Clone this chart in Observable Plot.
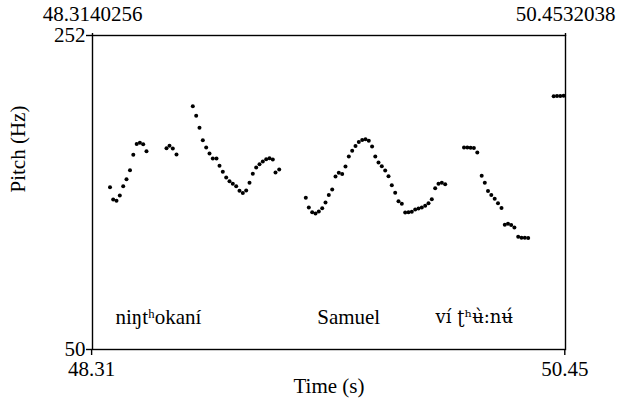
<!DOCTYPE html>
<html>
<head>
<meta charset="utf-8">
<script src="https://cdn.jsdelivr.net/npm/d3@7"></script>
<script src="https://cdn.jsdelivr.net/npm/@observablehq/plot@0.6"></script>
<style>
  html, body { margin: 0; padding: 0; background: #fff; }
</style>
</head>
<body>
<div id="chart"></div>
<script>
const timeStart = 48.3140256;
const timeEnd = 50.4532038;
const pitchMin = 50;
const pitchMax = 252;

const topTicks = [48.3140256, 50.4532038];
const bottomTicks = [48.31, 50.45];
const yTicks = [50, 252];

const times = [
  48.3932, 48.4076, 48.4226, 48.4375, 48.4529, 48.4678, 48.4836, 48.4985, 48.5139, 48.5284, 48.5433, 48.5582,
  48.6487, 48.6623, 48.6772, 48.6939,
  48.7676, 48.7830, 48.7979, 48.8129, 48.8282, 48.8432, 48.8581, 48.8748, 48.8884, 48.9033, 48.9187, 48.9336,
  48.9485, 48.9639, 48.9788, 48.9938, 49.0091, 49.0241, 49.0390, 49.0544, 49.0693, 49.0842, 49.0996, 49.1145,
  49.1294, 49.1417, 49.1584,
  49.2787, 49.2923, 49.3076, 49.3226, 49.3375, 49.3529, 49.3678, 49.3827, 49.3981, 49.4130, 49.4279, 49.4433,
  49.4582, 49.4732, 49.4885, 49.5035, 49.5184, 49.5338, 49.5487, 49.5636, 49.5785, 49.5930, 49.6075, 49.6224,
  49.6378, 49.6527, 49.6676, 49.6830, 49.6979, 49.7129, 49.7282, 49.7432, 49.7581, 49.7735, 49.7884, 49.8033,
  49.8187, 49.8336, 49.8485, 49.8639, 49.8788, 49.8938, 49.9091,
  49.9942, 50.0091, 50.0240, 50.0389, 50.0543, 50.0742, 50.0882, 50.1027, 50.1176, 50.1330, 50.1479, 50.1638,
  50.1787, 50.1932, 50.2076, 50.2221, 50.2393, 50.2542, 50.2691, 50.2845,
  50.3998, 50.4148, 50.4297, 50.4446
];
const pitches = [
  154.4, 146.5, 145.7, 149.1, 155.0, 159.5, 165.3, 175.3, 182.2, 183.0, 182.1, 177.6,
  179.5, 181.0, 179.3, 175.4,
  206.5, 200.3, 192.6, 184.6, 180.0, 176.1, 172.9, 172.9, 168.2, 164.3, 160.7, 158.3,
  156.6, 155.1, 152.1, 150.6, 152.3, 157.2, 163.0, 167.1, 169.2, 170.9, 172.4, 173.1,
  172.2, 163.9, 165.8,
  147.6, 141.4, 138.3, 137.5, 138.8, 140.9, 144.6, 149.4, 152.9, 161.3, 163.7, 162.9,
  167.7, 174.2, 177.9, 180.9, 183.5, 184.8, 185.2, 184.3, 180.6, 174.2, 170.3, 167.9,
  165.2, 161.5, 155.6, 150.8, 145.4, 143.7, 138.1, 138.3, 138.6, 140.1, 140.7, 141.4,
  142.4, 144.1, 146.7, 153.8, 156.6, 157.2, 156.3,
  180.0, 180.0, 179.8, 179.6, 176.7, 161.7, 157.2, 152.0, 149.4, 147.0, 144.1, 141.0,
  130.3, 130.9, 130.1, 128.5, 122.5, 121.9, 121.9, 121.7,
  212.9, 213.0, 213.1, 213.3
];

const words = ["niŋtʰokaní", "Samuel", "ví ʈʰʉ̀:nʉ́"];
const wordTimes = [48.4180, 49.3303, 49.8653];
const wordPitch = 70.6;

const points = times.map((t, i) => ({t, f: pitches[i]}));
const wordData = words.map((w, i) => ({w, t: wordTimes[i], f: wordPitch, i}));

const serif = "'Liberation Serif', 'Times New Roman', serif";
const ipaSerif = "'DejaVu Serif', 'Liberation Serif', serif";

const chart = Plot.plot({
  width: 617,
  height: 408,
  marginLeft: 92,
  marginRight: 52,
  marginTop: 35,
  marginBottom: 59,
  style: {fontFamily: serif, fontSize: "21px", color: "black", background: "white"},
  x: {domain: [timeStart, timeEnd]},
  y: {domain: [pitchMin, pitchMax]},
  marks: [
    Plot.frame({stroke: "black", strokeWidth: 1.4}),
    Plot.axisX({anchor: "bottom", ticks: bottomTicks, tickFormat: d => d.toFixed(2), tickSize: 6, tickPadding: 6, label: null, strokeWidth: 1.4, fontFamily: serif, fontSize: 21}),
    Plot.axisX({anchor: "top", ticks: topTicks, tickFormat: d => String(d), tickSize: 3, tickPadding: 12, label: null, strokeWidth: 1.4, fontFamily: serif, fontSize: 21}),
    Plot.axisY({anchor: "left", ticks: yTicks, tickFormat: d => String(d), tickSize: 6, tickPadding: 1, label: null, strokeWidth: 1.4, fontFamily: serif, fontSize: 21}),
    Plot.text(["Pitch (Hz)"], {frameAnchor: "left", dx: -74, rotate: -90, text: d => d, fontFamily: serif, fontSize: 21}),
    Plot.text(["Time (s)"], {frameAnchor: "bottom", dy: 43, text: d => d, fontFamily: serif, fontSize: 21}),
    Plot.dot(points, {x: "t", y: "f", r: 2, fill: "black", stroke: "none"}),
    Plot.text(wordData, {filter: d => d.i < 2, x: "t", y: "f", text: "w", textAnchor: "start", fontFamily: serif, fontSize: 21}),
    Plot.text(wordData, {filter: d => d.i === 2, x: "t", y: "f", text: "w", textAnchor: "start", fontFamily: ipaSerif, fontSize: 18})
  ]
});
document.getElementById("chart").appendChild(chart);
</script>
</body>
</html>
